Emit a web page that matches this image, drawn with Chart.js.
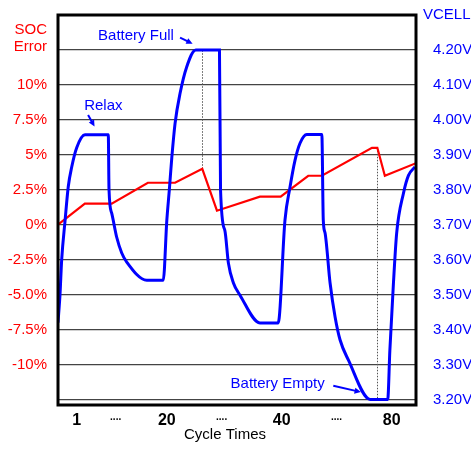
<!DOCTYPE html>
<html>
<head>
<meta charset="utf-8">
<script src="https://cdn.jsdelivr.net/npm/chart.js@4.4.0/dist/chart.umd.min.js"></script>
<style>
  html, body { margin: 0; padding: 0; background: #fff; }
</style>
</head>
<body>
<canvas id="socChart" width="471" height="453"></canvas>
<script>
// cycle position runs 0..100 across the plot (axis labels are not linear)
const socCycles = [0, 7.5, 15.0, 25.1, 32.7, 40.3, 44.4, 56.4, 62.2, 69.9, 73.7, 87.7, 89.2, 91.3, 100];
const socError  = [0, 1.5, 1.5, 3.0, 3.0, 4.0, 1.0, 2.0, 2.0, 3.5, 3.5, 5.5, 5.5, 3.5, 4.4];

const vcellCycles = [0, 0.56, 1.03, 1.96, 2.88, 3.83, 5.22, 7.54, 14.05, 14.25, 15.0, 16.4, 17.8, 19.2, 24.8, 29.4,
  30.4, 31.1, 31.8, 32.7, 34.1, 35.9, 38.5, 45.1, 45.4, 46.6, 47.6, 49.0, 50.8, 56.4, 61.5,
  63.4, 64.8, 66.2, 67.6, 69.5, 73.7, 74.1, 74.6, 76.0, 77.4, 78.8, 81.1, 87.2, 92.1,
  92.7, 93.7, 94.6, 96.5, 97.9, 99.7];
const vcellVolts = [3.42, 3.50, 3.60, 3.71, 3.81, 3.865, 3.92, 3.957, 3.957, 3.80, 3.733, 3.664, 3.619, 3.593, 3.541, 3.541,
  3.713, 3.80, 3.893, 3.99, 4.076, 4.15, 4.20, 4.20, 3.80, 3.684, 3.59, 3.533, 3.499, 3.419, 3.419,
  3.713, 3.807, 3.884, 3.933, 3.958, 3.958, 3.713, 3.676, 3.533, 3.436, 3.370, 3.313, 3.20, 3.20,
  3.341, 3.533, 3.676, 3.79, 3.841, 3.865];

const cycleTickPos    = [5.2, 16.1, 30.4, 45.7, 62.5, 77.8, 93.2];
const cycleTickLabels = ['1', '....', '20', '....', '40', '....', '80'];

const socTicks      = [-12.5, -10, -7.5, -5, -2.5, 0, 2.5, 5, 7.5, 10, 12.5];
const socTickLabels = ['', '-10%', '-7.5%', '-5.0%', '-2.5%', '0%', '2.5%', '5%', '7.5%', '10%', ''];

const vcellTicks      = [3.2, 3.3, 3.4, 3.5, 3.6, 3.7, 3.8, 3.9, 4.0, 4.1, 4.2];
const vcellTickLabels = ['3.20V', '3.30V', '3.40V', '3.50V', '3.60V', '3.70V', '3.80V', '3.90V', '4.00V', '4.10V', '4.20V'];

const RED = '#ff0000';
const BLUE = '#0000ff';
const FONT = "'Liberation Sans', Arial, sans-serif";

// callouts, anchored in cycle / volt units
const notes = [
  { text: 'Battery Full',  x: 11.2, v: 4.241, from: [34.1, 4.235], to: [37.6, 4.218] },
  { text: 'Relax',         x: 7.3,  v: 4.039, from: [8.4, 4.014],  to: [10.2, 3.981] },
  { text: 'Battery Empty', x: 48.2, v: 3.244, from: [76.9, 3.239], to: [84.6, 3.221] }
];

function arrow(ctx, x1, y1, x2, y2) {
  const ang = Math.atan2(y2 - y1, x2 - x1);
  const len = 7;
  ctx.beginPath();
  ctx.moveTo(x1, y1);
  ctx.lineTo(x2 - Math.cos(ang) * len * 0.6, y2 - Math.sin(ang) * len * 0.6);
  ctx.stroke();
  ctx.beginPath();
  ctx.moveTo(x2, y2);
  ctx.lineTo(x2 - len * Math.cos(ang - 0.45), y2 - len * Math.sin(ang - 0.45));
  ctx.lineTo(x2 - len * Math.cos(ang + 0.45), y2 - len * Math.sin(ang + 0.45));
  ctx.closePath();
  ctx.fill();
}

// keep the plot box fixed, no extra room for half tick labels
function noPad(s) {
  s.paddingTop = 0;
  s.paddingBottom = 0;
  s.paddingLeft = 0;
  s.paddingRight = 0;
}

const extras = {
  id: 'extras',
  beforeDatasetsDraw(chart) {
    const { ctx, scales: { x, y, y1 } } = chart;
    ctx.save();
    ctx.strokeStyle = '#555';
    ctx.lineWidth = 1;
    ctx.setLineDash([1.5, 1.5]);
    // full charge guide: red peak up to 4.20V
    let px = Math.round(x.getPixelForValue(socCycles[5])) + 0.5;
    ctx.beginPath();
    ctx.moveTo(px, y.getPixelForValue(socError[5]));
    ctx.lineTo(px, y1.getPixelForValue(4.2));
    ctx.stroke();
    // empty guide: red peak down to 3.20V
    px = Math.round(x.getPixelForValue(socCycles[12])) + 0.5;
    ctx.beginPath();
    ctx.moveTo(px, y.getPixelForValue(socError[12]));
    ctx.lineTo(px, y1.getPixelForValue(3.2));
    ctx.stroke();
    ctx.restore();
  },
  afterDatasetsDraw(chart) {
    const { ctx, chartArea: a, scales: { x, y1 } } = chart;
    ctx.save();
    // frame
    ctx.strokeStyle = '#000';
    ctx.lineWidth = 3;
    ctx.strokeRect(a.left, a.top, a.right - a.left, a.bottom - a.top);

    // callouts
    ctx.fillStyle = BLUE;
    ctx.strokeStyle = BLUE;
    ctx.lineWidth = 2;
    ctx.font = '15px ' + FONT;
    ctx.textAlign = 'left';
    ctx.textBaseline = 'middle';
    notes.forEach(n => {
      ctx.fillText(n.text, x.getPixelForValue(n.x), y1.getPixelForValue(n.v));
      arrow(ctx,
        x.getPixelForValue(n.from[0]), y1.getPixelForValue(n.from[1]),
        x.getPixelForValue(n.to[0]), y1.getPixelForValue(n.to[1]));
    });

    // axis titles
    ctx.fillStyle = RED;
    ctx.textAlign = 'right';
    ctx.fillText('SOC', a.left - 11, 30);
    ctx.fillText('Error', a.left - 11, 47);
    ctx.fillStyle = BLUE;
    ctx.textAlign = 'left';
    ctx.fillText('VCELL', a.right + 7, 15);
    ctx.fillStyle = '#000';
    ctx.textAlign = 'center';
    ctx.fillText('Cycle Times', 225, 435);
    ctx.restore();
  }
};

new Chart(document.getElementById('socChart'), {
  type: 'line',
  data: {
    datasets: [{
      label: 'VCELL',
      data: vcellCycles.map((c, i) => ({ x: c, y: vcellVolts[i] })),
      yAxisID: 'y1',
      borderColor: BLUE,
      borderWidth: 3,
      pointRadius: 0,
      cubicInterpolationMode: 'monotone',
      order: 0
    }, {
      label: 'SOC Error',
      data: socCycles.map((c, i) => ({ x: c, y: socError[i] })),
      yAxisID: 'y',
      borderColor: RED,
      borderWidth: 2.2,
      pointRadius: 0,
      tension: 0,
      order: 1
    }]
  },
  options: {
    responsive: false,
    animation: false,
    layout: { padding: { top: 15, left: 0, right: 0, bottom: 0 } },
    plugins: {
      legend: { display: false },
      tooltip: { enabled: false }
    },
    scales: {
      x: {
        type: 'linear',
        min: 0,
        max: 100,
        afterBuildTicks: s => { s.ticks = cycleTickPos.map(v => ({ value: v })); },
        afterFit: s => { s.height = 48; noPad(s); },
        grid: { display: false, drawTicks: false },
        border: { display: false },
        ticks: {
          autoSkip: false,
          maxRotation: 0,
          padding: 6,
          color: '#000',
          font: c => cycleTickLabels[c.index] === '....'
            ? { family: FONT, size: 10, weight: 'bold' }
            : { family: FONT, size: 16, weight: 'bold' },
          callback: (v, i) => cycleTickLabels[i]
        }
      },
      y: {
        position: 'left',
        min: -12.9,
        max: 15,
        afterBuildTicks: s => { s.ticks = socTicks.map(v => ({ value: v })); },
        afterFit: s => { s.width = 58; noPad(s); },
        grid: { color: '#444', lineWidth: 1.3, drawTicks: false },
        border: { display: false },
        ticks: {
          padding: 11,
          color: RED,
          font: { family: FONT, size: 15 },
          callback: (v, i) => socTickLabels[i]
        }
      },
      y1: {
        position: 'right',
        min: 3.184,
        max: 4.30,
        afterBuildTicks: s => { s.ticks = vcellTicks.map(v => ({ value: v })); },
        afterFit: s => { s.width = 55; noPad(s); },
        grid: { display: false, drawTicks: false },
        border: { display: false },
        ticks: {
          padding: 17,
          color: BLUE,
          font: { family: FONT, size: 15 },
          callback: (v, i) => vcellTickLabels[i]
        }
      }
    }
  },
  plugins: [extras]
});
</script>
</body>
</html>
